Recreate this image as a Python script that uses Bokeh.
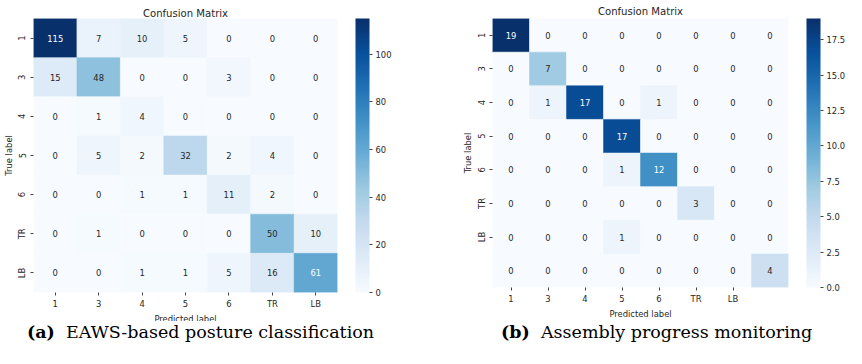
import numpy as np
from bokeh.plotting import figure
from bokeh.models import (LinearColorMapper, ColorBar, FixedTicker, Range1d,
                          PrintfTickFormatter, ColumnDataSource, Div)
from bokeh.layouts import row, column
from bokeh.palettes import Blues256
from bokeh.embed import file_html
from bokeh.resources import INLINE
from bokeh.core.properties import value

# ---------------- data ----------------
labels_a = ["1", "3", "4", "5", "6", "TR", "LB"]
matrix_a = [
    [115, 7, 10, 5, 0, 0, 0],
    [15, 48, 0, 0, 3, 0, 0],
    [0, 1, 4, 0, 0, 0, 0],
    [0, 5, 2, 32, 2, 4, 0],
    [0, 0, 1, 1, 11, 2, 0],
    [0, 1, 0, 0, 0, 50, 10],
    [0, 0, 1, 1, 5, 16, 61],
]
cbar_ticks_a = [0, 20, 40, 60, 80, 100]

labels_b = ["1", "3", "4", "5", "6", "TR", "LB"]
matrix_b = [
    [19, 0, 0, 0, 0, 0, 0, 0],
    [0, 7, 0, 0, 0, 0, 0, 0],
    [0, 1, 17, 0, 1, 0, 0, 0],
    [0, 0, 0, 17, 0, 0, 0, 0],
    [0, 0, 0, 1, 12, 0, 0, 0],
    [0, 0, 0, 0, 0, 3, 0, 0],
    [0, 0, 0, 1, 0, 0, 0, 0],
    [0, 0, 0, 0, 0, 0, 0, 4],
]
cbar_ticks_b = [0.0, 2.5, 5.0, 7.5, 10.0, 12.5, 15.0, 17.5]

title_text = "Confusion Matrix"
xlabel_text = "Predicted label"
ylabel_text = "True label"
caption_a = ["(a)", "EAWS-based posture classification"]
caption_b = ["(b)", "Assembly progress monitoring"]

# ---------------- style ----------------
pal = list(Blues256)
if pal[0].lower() == "#08306b":
    pal = pal[::-1]
TXT = "#262626"
SANS = "DejaVu Sans"
SERIF = "DejaVu Serif"
SMALL = "8.4px"
CAP = "17.5px"


def lum(hexc):
    h = hexc.lstrip("#")
    rgb = [int(h[i:i + 2], 16) / 255 for i in (0, 2, 4)]
    lin = [c / 12.92 if c <= 0.03928 else ((c + 0.055) / 1.055) ** 2.4 for c in rgb]
    return 0.2126 * lin[0] + 0.7152 * lin[1] + 0.0722 * lin[2]


def heatmap(matrix, labels, cticks, cfmt, fw, fh, bl, bt, br, bb, cb_gap, tstand):
    m = np.array(matrix)
    n = m.shape[0]
    rr, cc = np.indices(m.shape)
    vals = m.ravel()
    lo, hi = float(vals.min()), float(vals.max())
    idx = np.clip(((vals - lo) / (hi - lo) * (len(pal) - 1)).round().astype(int), 0, len(pal) - 1)
    fills = [pal[i] for i in idx]
    tcols = [TXT if lum(f) > 0.408 else "white" for f in fills]
    src = ColumnDataSource(dict(x=cc.ravel() + 0.5, y=rr.ravel() + 0.5,
                                v=vals, t=[str(v) for v in vals], fill=fills, tc=tcols))
    mapper = LinearColorMapper(palette=pal, low=lo, high=hi)

    p = figure(frame_width=fw, frame_height=fh, x_range=Range1d(0, n), y_range=Range1d(n, 0),
               output_backend="svg", toolbar_location=None,
               min_border_left=bl, min_border_top=bt, min_border_right=br, min_border_bottom=bb,
               title=title_text)
    p.rect(x="x", y="y", width=1, height=1, source=src, fill_color="fill",
           line_color="fill", line_width=0.5)
    p.text(x="x", y="y", text="t", source=src, text_color="tc", text_align="center",
           text_baseline="middle", text_font=value(SANS), text_font_size=SMALL)

    ticks = [i + 0.5 for i in range(len(labels))]
    overrides = {t: l for t, l in zip(ticks, labels)}
    for ax in (p.xaxis[0], p.yaxis[0]):
        ax.ticker = FixedTicker(ticks=ticks)
        ax.major_label_overrides = overrides
        ax.axis_line_color = None
        ax.major_tick_in = 0
        ax.major_tick_out = 3
        ax.minor_tick_in = 0
        ax.minor_tick_out = 0
        ax.major_tick_line_color = "#444444"
        ax.minor_tick_line_color = None
        ax.major_label_text_font = SANS
        ax.major_label_text_font_size = SMALL
        ax.major_label_text_color = TXT
        ax.axis_label_text_font = SANS
        ax.axis_label_text_font_size = SMALL
        ax.axis_label_text_font_style = "normal"
        ax.axis_label_text_color = TXT
        ax.major_label_standoff = 3
        ax.axis_label_standoff = 2
    p.yaxis.axis_label_standoff = 1
    p.xaxis.axis_label = xlabel_text
    p.yaxis.axis_label = ylabel_text
    p.yaxis.major_label_orientation = "vertical"
    p.grid.visible = False
    p.outline_line_color = None

    p.title.align = "center"
    p.title.text_font = SANS
    p.title.text_font_size = "10.1px"
    p.title.text_font_style = "normal"
    p.title.text_color = TXT
    p.title.standoff = tstand

    cb = ColorBar(color_mapper=mapper, ticker=FixedTicker(ticks=cticks),
                  formatter=PrintfTickFormatter(format=cfmt),
                  width=14, height=fh, padding=0, margin=0, location=(cb_gap, 0),
                  major_tick_in=0, major_tick_out=3, major_tick_line_color="#444444",
                  minor_tick_line_color=None,
                  bar_line_color=None, background_fill_color=None, border_line_color=None,
                  major_label_text_font=SANS, major_label_text_font_size=SMALL,
                  major_label_text_color=TXT, label_standoff=3)
    p.add_layout(cb, "right")
    return p


W1 = 410
W2 = 432
p1 = heatmap(matrix_a, labels_a, cbar_ticks_a, "%d", 304, 274, 29, 13, 77, 30, 18, 0)
p2 = heatmap(matrix_b, labels_b, cbar_ticks_b, "%.1f", 296, 269, 78, 18, 58, 30, 18, 3)


def caption_div(cap, w, pad):
    html = "<b>%s</b>&nbsp;&nbsp;%s" % (cap[0], cap[1])
    return Div(text=html, width=w, height=26, margin=0,
               styles={"font-family": SERIF, "font-size": CAP, "line-height": "22px",
                       "white-space": "nowrap", "color": "black",
                       "padding-left": "%dpx" % pad, "box-sizing": "border-box",
                       "overflow": "visible"})


d1 = caption_div(caption_a, W1, 27)
d2 = caption_div(caption_b, W2, 91)

layout = column(row(p1, p2), row(d1, d2), spacing=0)
open("out.html", "w").write(file_html(layout, INLINE))
